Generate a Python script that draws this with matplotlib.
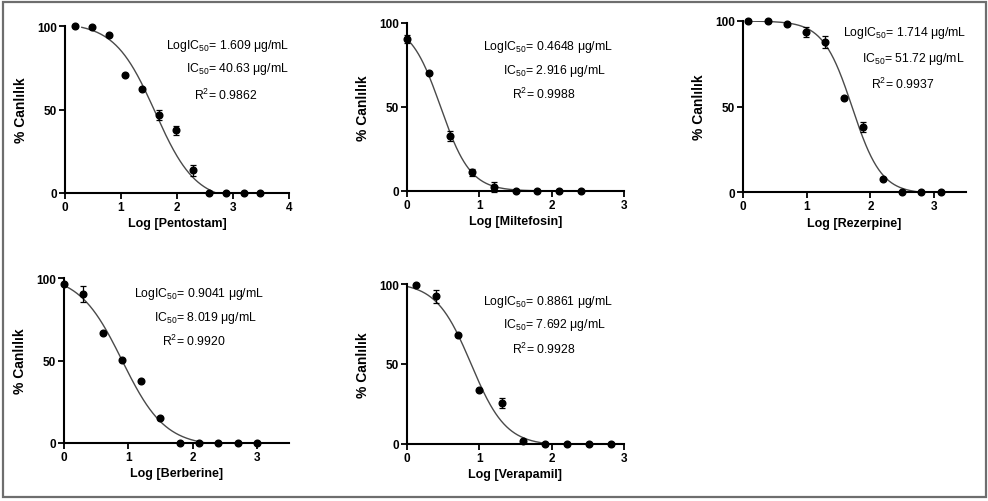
import numpy as np
import matplotlib
matplotlib.use('Agg')
import matplotlib.pyplot as plt
from matplotlib.patches import Rectangle

plt.rcParams['font.family'] = ['Liberation Sans', 'DejaVu Sans']
plt.rcParams['mathtext.fontset'] = 'custom'
plt.rcParams['mathtext.rm'] = 'Liberation Sans'
plt.rcParams['mathtext.it'] = 'Liberation Sans:italic'
plt.rcParams['mathtext.bf'] = 'Liberation Sans:bold'

# drug names and fit results (as printed on the chart)
drugs = ['Pentostam', 'Miltefosin', 'Rezerpine', 'Berberine', 'Verapamil']
log_ic50 = [1.609, 0.4648, 1.714, 0.9041, 0.8861]
log_ic50_txt = ['1.609', '0.4648', '1.714', '0.9041', '0.8861']
ic50_txt = ['40.63', '2.916', '51.72', '8.019', '7.692']
r2_txt = ['0.9862', '0.9988', '0.9937', '0.9920', '0.9928']

# measured points: log concentration, % viability, error
pento_x = [0.18, 0.48, 0.78, 1.08, 1.38, 1.68, 1.98, 2.28, 2.58, 2.88, 3.19, 3.49]
pento_y = [100, 99.2, 94.6, 70.5, 62.5, 47, 37.5, 13.6, 0, 0, 0, 0]
pento_e = [0, 0, 0, 0, 0, 3, 2.5, 3.3, 0, 0, 0, 0]

milt_x = [0, 0.3, 0.6, 0.9, 1.2, 1.5, 1.8, 2.1, 2.4]
milt_y = [90.5, 70.3, 32.9, 11.1, 2.2, 0, 0, 0, 0]
milt_e = [2.5, 0, 3, 2, 3, 0, 0, 0, 0]

rez_x = [0.08, 0.39, 0.69, 0.99, 1.29, 1.59, 1.89, 2.2, 2.5, 2.8, 3.1]
rez_y = [100, 100, 98, 93.4, 88, 54.9, 38, 7.4, 0, 0, 0]
rez_e = [0, 0, 0, 3, 3.5, 0, 3, 0, 0, 0, 0]

berb_x = [0, 0.3, 0.6, 0.9, 1.2, 1.5, 1.8, 2.1, 2.4, 2.7, 3.0]
berb_y = [96.6, 90.3, 66.8, 50.2, 37.4, 15.2, 0, 0, 0, 0, 0]
berb_e = [0, 4.9, 0, 0, 0, 0, 0, 0, 0, 0, 0]

vera_x = [0.12, 0.4, 0.7, 1.0, 1.31, 1.61, 1.91, 2.21, 2.52, 2.82]
vera_y = [99.6, 92.3, 68.4, 33.9, 25.4, 2.1, 0, 0, 0, 0]
vera_e = [0, 3.9, 0, 0, 3.2, 0, 0, 0, 0, 0]

xs = [pento_x, milt_x, rez_x, berb_x, vera_x]
ys = [pento_y, milt_y, rez_y, berb_y, vera_y]
errs = [pento_e, milt_e, rez_e, berb_e, vera_e]

# 4PL curve parameters (top, bottom, hill) and drawn range
tops = [102, 100, 100, 102, 101]
bottoms = [-5, 0, -1, -2, -1]
hills = [1.2, 2.1, 1.9, 1.3, 1.8]
curve_from = [0.3, 0, 0.08, 0, 0]
curve_to = [3.5, 2.4, 3.1, 3.0, 2.8]
xmax = [4, 3, 3.5, 3.5, 3]

W, H = 988, 502
# axes boxes in pixels: left, right, top, bottom
boxes = [(65, 289, 27, 194), (407, 624, 24, 192), (743, 966, 22, 193),
         (64, 289, 279, 444), (407, 624, 285, 445)]
# annotation anchors (left x, centre y) for the three text lines
text_pos = [[(166, 46), (186, 69), (194, 95)],
            [(483, 47), (503, 71), (512, 94)],
            [(843, 33), (862, 59), (871, 84)],
            [(134, 294), (154, 318), (162, 341)],
            [(483, 302), (503, 325), (512, 349)]]

fig = plt.figure(figsize=(W / 100, H / 100), dpi=100)

for i, drug in enumerate(drugs):
    l, r, t, b = boxes[i]
    ax = fig.add_axes([l / W, 1 - b / H, (r - l) / W, (b - t) / H])
    ax.set_xlim(0, xmax[i])
    ax.set_ylim(0, 100)

    xc = np.linspace(curve_from[i], curve_to[i], 300)
    yc = bottoms[i] + (tops[i] - bottoms[i]) / (1 + 10 ** ((xc - log_ic50[i]) * hills[i]))
    ax.plot(xc, yc, color='#4a4a4a', lw=1.0)

    ax.errorbar(xs[i], ys[i], yerr=errs[i], fmt='o', color='black', ms=4.8,
                elinewidth=0.9, capsize=2.5, capthick=0.9, clip_on=False, zorder=5)

    for side in ['top', 'right']:
        ax.spines[side].set_visible(False)
    for side in ['left', 'bottom']:
        ax.spines[side].set_linewidth(1.5)
    ax.set_yticks([0, 50, 100])
    ax.set_xticks(range(0, int(xmax[i]) + 1))
    ax.tick_params(direction='out', length=4, width=1.3, labelsize=8.5, pad=2)
    for lab in ax.get_xticklabels() + ax.get_yticklabels():
        lab.set_fontweight('bold')
    ax.set_xlabel(f'Log [{drug}]', fontsize=9, fontweight='bold', labelpad=3)
    ax.set_ylabel('% Canlılık', fontsize=10, fontweight='bold', labelpad=6)

    lines = [f'LogIC$_{{50}}$= {log_ic50_txt[i]} μg/mL',
             f'IC$_{{50}}$= {ic50_txt[i]} μg/mL',
             f'R$^{{2}}$= {r2_txt[i]}']
    for (px, py), s in zip(text_pos[i], lines):
        fig.text(px / W, 1 - py / H, s, fontsize=8.8, ha='left', va='center')

# grey frame round the whole figure
fig.patches.append(Rectangle((3 / W, 4 / H), 983 / W, 495 / H, transform=fig.transFigure,
                             fill=False, edgecolor='#6e6e6e', lw=1.6))

fig.savefig('out.png', dpi=100)
